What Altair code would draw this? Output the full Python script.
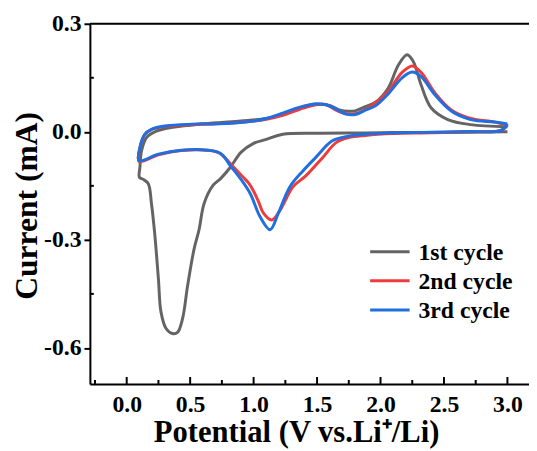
import altair as alt
import pandas as pd

# ---- data (potential V, current mA), in scan order ----
c1_v = [3.00, 2.70, 2.40, 2.10, 1.88, 1.49, 1.23, 1.10, 1.00, 0.90, 0.82, 0.74, 0.68, 0.61,
        0.57, 0.53, 0.48, 0.44, 0.40, 0.36, 0.31, 0.27, 0.25, 0.22, 0.195, 0.17, 0.13, 0.10,
        0.104, 0.117, 0.156, 0.234, 0.35, 0.56, 0.71, 0.90, 1.10, 1.23, 1.36, 1.49, 1.60,
        1.675, 1.75, 1.80, 1.88, 1.96, 2.06, 2.14, 2.21, 2.26, 2.32, 2.40, 2.53, 2.71, 3.00]
c1_i = [0.000, -0.001, -0.002, -0.002, -0.003, -0.004, -0.007, -0.021, -0.032, -0.057, -0.097,
        -0.130, -0.149, -0.199, -0.272, -0.327, -0.427, -0.519, -0.557, -0.560, -0.546, -0.500,
        -0.409, -0.280, -0.199, -0.144, -0.132, -0.126,
        -0.099, -0.053, -0.016, 0.002, 0.012, 0.020, 0.025, 0.030, 0.037, 0.050, 0.066, 0.077,
        0.073, 0.061, 0.057, 0.058, 0.070, 0.082, 0.121, 0.185, 0.214, 0.194, 0.130, 0.066,
        0.034, 0.020, 0.014]

c2_v = [3.00, 2.95, 2.70, 2.40, 2.10, 1.88, 1.75, 1.65, 1.545, 1.415, 1.31, 1.21, 1.143, 1.078,
        1.04, 1.00, 0.96, 0.92, 0.87, 0.82, 0.77, 0.72, 0.64, 0.43, 0.25, 0.097,
        0.104, 0.143, 0.195, 0.30, 0.56, 0.71, 1.00, 1.10, 1.23, 1.36, 1.49, 1.57, 1.65, 1.73,
        1.80, 1.88, 1.96, 2.06, 2.17, 2.25, 2.32, 2.43, 2.56, 2.71, 2.90, 3.00]
c2_i = [0.018, 0.004, 0.000, -0.003, -0.005, -0.010, -0.016, -0.030, -0.071, -0.121, -0.153,
        -0.217, -0.245, -0.226, -0.195, -0.165, -0.142, -0.127, -0.108, -0.090, -0.070, -0.057,
        -0.051, -0.052, -0.064, -0.082,
        -0.044, -0.007, 0.006, 0.015, 0.021, 0.022, 0.030, 0.035, 0.046, 0.062, 0.075, 0.076,
        0.060, 0.050, 0.050, 0.062, 0.080, 0.112, 0.165, 0.183, 0.165, 0.107, 0.060, 0.037,
        0.027, 0.018]

c3_v = [3.00, 2.95, 2.70, 2.40, 2.10, 1.88, 1.75, 1.62, 1.49, 1.39, 1.285, 1.195, 1.13, 1.051,
        0.974, 0.896, 0.818, 0.74, 0.636, 0.43, 0.25, 0.097,
        0.104, 0.143, 0.195, 0.30, 0.56, 0.71, 1.00, 1.10, 1.23, 1.36, 1.49, 1.57, 1.65, 1.73,
        1.80, 1.88, 1.96, 2.06, 2.17, 2.25, 2.32, 2.43, 2.56, 2.71, 2.90, 3.00]
c3_i = [0.022, 0.004, 0.001, -0.001, -0.003, -0.007, -0.012, -0.025, -0.071, -0.108, -0.153,
        -0.226, -0.272, -0.236, -0.172, -0.130, -0.095, -0.060, -0.051, -0.051, -0.062, -0.080,
        -0.044, -0.007, 0.007, 0.016, 0.022, 0.022, 0.030, 0.037, 0.052, 0.068, 0.077, 0.075,
        0.063, 0.049, 0.048, 0.060, 0.072, 0.105, 0.150, 0.166, 0.153, 0.102, 0.057, 0.034,
        0.027, 0.022]

labels = ["1st cycle", "2nd cycle", "3rd cycle"]
colors = ["#646464", "#ef3b3b", "#1f6fe0"]

x_major = [0.0, 0.5, 1.0, 1.5, 2.0, 2.5, 3.0]
x_minor = [-0.25, 0.25, 0.75, 1.25, 1.75, 2.25, 2.75]
y_major = [-0.6, -0.3, 0.0, 0.3]
y_minor = [-0.45, -0.15, 0.15]

rows = []
for lab, (vs, cs_) in zip(labels, [(c1_v, c1_i), (c2_v, c2_i), (c3_v, c3_i)]):
    for k, (v, c) in enumerate(zip(vs, cs_)):
        rows.append({"cycle": lab, "idx": k, "V": v, "I": c})
df = pd.DataFrame(rows)

W, H = 445, 365
FONT = "Liberation Serif"
xs = alt.Scale(domain=[-0.29, 3.17], nice=False, zero=False)
ys = alt.Scale(domain=[-0.7, 0.3], nice=False, zero=False)
cs = alt.Scale(domain=labels, range=colors)
fix_minus = "replace(datum.label, '\u2212', '-')"

x_axis = alt.Axis(
    values=x_major, format=".1f", labelExpr=fix_minus, ticks=False, tickSize=0,
    labelPadding=9, domainWidth=2, domainColor="black", grid=False,
    labelFont=FONT, labelFontSize=24, labelFontWeight="bold", labelColor="black",
    title="Potential (V vs.Li\u207a/Li)", titleFont=FONT, titleFontSize=31,
    titleFontWeight="bold", titleColor="black", titleX=209, titleY=58,
    titleBaseline="alphabetic", titleAlign="center")
y_axis = alt.Axis(
    values=y_major, format=".1f", labelExpr=fix_minus, tickSize=6, tickWidth=2,
    tickColor="black", labelPadding=3, domainWidth=2, domainColor="black", grid=False,
    labelFont=FONT, labelFontSize=24, labelFontWeight="bold", labelColor="black",
    title="Current (mA)", titleFont=FONT, titleFontSize=32, titleFontWeight="bold",
    titleColor="black", titleX=-54, titleY=184, titleBaseline="alphabetic",
    titleAlign="center")

lines = alt.Chart(df).mark_line(strokeWidth=3, interpolate="catmull-rom").encode(
    x=alt.X("V:Q", scale=xs, axis=x_axis),
    y=alt.Y("I:Q", scale=ys, axis=y_axis),
    color=alt.Color("cycle:N", scale=cs, legend=None),
    order=alt.Order("idx:Q"),
)

xmaj = alt.Chart(pd.DataFrame({"v": x_major})).mark_rule(color="black", strokeWidth=2).encode(
    x=alt.X("v:Q", scale=xs, axis=x_axis), y=alt.value(H), y2=alt.value(H - 7))
xmin = alt.Chart(pd.DataFrame({"v": x_minor})).mark_rule(color="black", strokeWidth=2).encode(
    x=alt.X("v:Q", scale=xs, axis=x_axis), y=alt.value(H), y2=alt.value(H - 4))
ymin = alt.Chart(pd.DataFrame({"v": y_minor})).mark_rule(color="black", strokeWidth=2).encode(
    y=alt.Y("v:Q", scale=ys, axis=y_axis), x=alt.value(0), x2=alt.value(4))
top = alt.Chart(pd.DataFrame({"v": [0]})).mark_rule(color="black", strokeWidth=2).encode(
    x=alt.value(0), x2=alt.value(W), y=alt.value(0))

main = alt.layer(lines, xmaj, xmin, ymin, top)

# legend drawn as its own small layer, rows placed by a point scale
leg_df = pd.DataFrame({"cycle": labels})
leg_y = alt.Y("cycle:N", scale=alt.Scale(type="point", domain=labels, range=[231, 290],
                                         padding=0), axis=None)
leg_lines = alt.Chart(leg_df).mark_rule(strokeWidth=3).encode(
    y=leg_y, x=alt.value(284), x2=alt.value(324),
    color=alt.Color("cycle:N", scale=cs, legend=None))
leg_text = alt.Chart(leg_df).mark_text(align="left", baseline="middle", font=FONT,
                                       fontSize=24, fontWeight="bold", color="black",
                                       dy=1).encode(
    y=leg_y, x=alt.value(333), text="cycle:N")
legend = alt.layer(leg_lines, leg_text)

chart = alt.layer(main, legend).resolve_scale(y="independent").properties(
    width=W, height=H,
    autosize=alt.AutoSizeParams(type="none"),
    padding={"left": 83, "top": 13, "right": 0, "bottom": 65},
).configure_view(strokeWidth=0).configure(background="white")

chart.save("out.html", embed_options={"renderer": "svg", "actions": False})
